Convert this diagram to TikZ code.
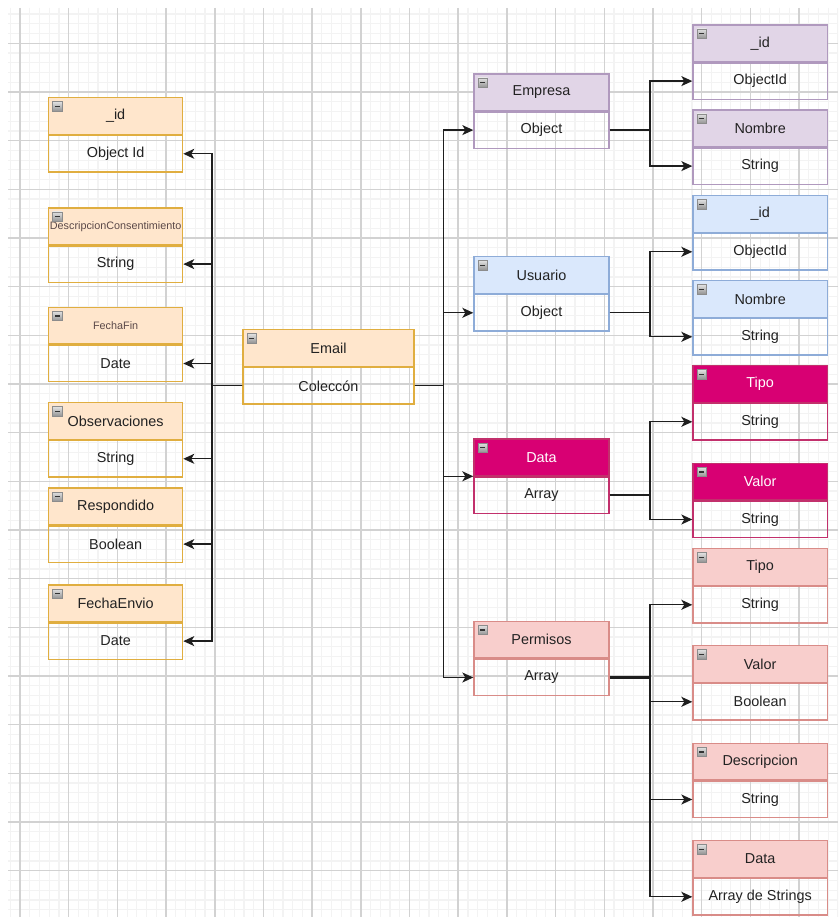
\documentclass[tikz,border=0pt]{standalone}
\usepackage{fontspec}
\setmainfont{Liberation Sans}
\usetikzlibrary{arrows.meta}

% palette
\definecolor{orFill}{HTML}{FFE6CC}\definecolor{orLine}{HTML}{E0AE40}
\definecolor{puFill}{HTML}{E1D5E7}\definecolor{puLine}{HTML}{B099BE}
\definecolor{blFill}{HTML}{DAE8FC}\definecolor{blLine}{HTML}{8EACD8}
\definecolor{mgFill}{HTML}{D80073}\definecolor{mgLine}{HTML}{C2306C}
\definecolor{pkFill}{HTML}{F8CECC}\definecolor{pkLine}{HTML}{D98C88}
\definecolor{txt}{HTML}{222222}
\definecolor{smallTxt}{HTML}{5A4848}
\definecolor{gridMajor}{HTML}{D2D2D2}
\definecolor{gridMinor}{HTML}{F3F3F3}
\definecolor{wire}{HTML}{1E1E1E}

\newcommand\mainsz{\fontsize{14.4}{17}\selectfont}
\newcommand\smallsz{\fontsize{10.8}{13}\selectfont\color{smallTxt}}

\tikzset{
  hdrbox/.style={draw, line width=1.3pt, minimum height=36.7pt, inner sep=0pt,
                 font=\mainsz, text=txt},
  bodybox/.style={draw, line width=1.3pt, minimum height=36.3pt, inner sep=0pt,
                  font=\mainsz, text=txt},
  or-h/.style={fill=orFill, draw=orLine}, or-b/.style={draw=orLine},
  pu-h/.style={fill=puFill, draw=puLine}, pu-b/.style={draw=puLine},
  bl-h/.style={fill=blFill, draw=blLine}, bl-b/.style={draw=blLine},
  mg-h/.style={fill=mgFill, draw=mgLine, text=white}, mg-b/.style={draw=mgLine},
  pk-h/.style={fill=pkFill, draw=pkLine}, pk-b/.style={draw=pkLine},
  iconbox/.style={draw=black!45, line width=0.8pt, top color=black!12, bottom color=black!42},
  iconbar/.style={draw=black!80, line width=1.6pt},
  conn/.style={draw=wire, line width=1.3pt},
  arr/.style={conn, -{Stealth[length=11pt, width=10pt, inset=3pt]}},
  gmin/.style={draw=gridMinor, line width=1.2pt},
  gmaj/.style={draw=gridMajor, line width=1.5pt},
}

% field box: name, left x, top y, width, colour family, title, type
\newcommand\fieldbox[7]{%
  \node[hdrbox, #5-h, minimum width=#4pt, anchor=north west] (#1-h) at (#2,#3) {#6};
  \node[bodybox, #5-b, minimum width=#4pt, anchor=north west] (#1-b) at (#1-h.south west) {#7};
  \draw[iconbox] ({#2+4.7},{#3+4.7}) rectangle ++(9.3,9.3);
  \draw[iconbar] ({#2+7},{#3+9.35}) -- ++(4.7,0);
}

\begin{document}
\begin{tikzpicture}[x=1pt, y=-1pt]
\useasboundingbox (0,0) rectangle (838,917);
\fill[white] (0,0) rectangle (838,917);

% background grid: faint minor lines, every fifth one a major line
\begin{scope}
  \clip (8,8) rectangle (838,917);
  \foreach \k in {-1,...,84} {
    \pgfmathtruncatemacro\m{mod(\k+5,5)}
    \ifnum\m>0 \draw[gmin] ({20+9.738*\k},8) -- ({20+9.738*\k},917); \fi
  }
  \foreach \k in {-4,...,90} {
    \pgfmathtruncatemacro\m{mod(\k+5,5)}
    \ifnum\m>0 \draw[gmin] (8,{43.3+9.734*\k}) -- (838,{43.3+9.734*\k}); \fi
  }
  \foreach \k in {0,...,16} \draw[gmaj] ({20+48.69*\k},8) -- ({20+48.69*\k},917);
  \foreach \k in {0,...,17} \draw[gmaj] (8,{43.3+48.67*\k}) -- (838,{43.3+48.67*\k});
\end{scope}

% root collection
\fieldbox{email}{242.3}{329}{171}{or}{Email}{Coleccón}

% fields on the left
\fieldbox{lid}{48}{97}{134}{or}{\_id}{Object Id}
\fieldbox{ldesc}{48}{207.3}{134}{or}{\smallsz DescripcionConsentimiento}{String}
\fieldbox{lffin}{48}{306.7}{134}{or}{\smallsz FechaFin}{Date}
\fieldbox{lobs}{48}{402}{134}{or}{Observaciones}{String}
\fieldbox{lresp}{48}{487.3}{134}{or}{Respondido}{Boolean}
\fieldbox{lfenv}{48}{584.3}{134}{or}{FechaEnvio}{Date}

% embedded documents
\fieldbox{emp}{473.3}{73.3}{135}{pu}{Empresa}{Object}
\fieldbox{usr}{473.3}{256}{135}{bl}{Usuario}{Object}
\fieldbox{dat}{473.3}{438.3}{135}{mg}{Data}{Array}
\fieldbox{per}{473.3}{620.7}{135}{pk}{Permisos}{Array}

% their fields
\fieldbox{eid}{692.3}{24.3}{134.4}{pu}{\_id}{ObjectId}
\fieldbox{enom}{692.3}{109.3}{134.4}{pu}{Nombre}{String}
\fieldbox{uid}{692.3}{195}{134.4}{bl}{\_id}{ObjectId}
\fieldbox{unom}{692.3}{280}{134.4}{bl}{Nombre}{String}
\fieldbox{dtipo}{692.3}{365}{134.4}{mg}{Tipo}{String}
\fieldbox{dval}{692.3}{462.7}{134.4}{mg}{Valor}{String}
\fieldbox{ptipo}{692.3}{548}{134.4}{pk}{Tipo}{String}
\fieldbox{pval}{692.3}{645}{134.4}{pk}{Valor}{Boolean}
\fieldbox{pdesc}{692.3}{742.7}{134.4}{pk}{Descripcion}{String}
\fieldbox{pdata}{692.3}{840}{134.4}{pk}{Data}{Array de Strings}

% trunk positions
\coordinate (lx) at (212,0);
\coordinate (rx) at (443.3,0);
\coordinate (bx) at (650,0);

% left tree
\foreach \t in {lid,ldesc,lffin,lobs,lresp,lfenv}
  \draw[arr] (email-b.west) -- (email-b.west -| lx) |- (\t-b.east);

% right tree
\foreach \t in {emp,usr,per}
  \draw[arr] (email-b.east) -- (email-b.east -| rx) |- (\t-b.west);
\draw[arr] (email-b.east) -- (email-b.east -| rx) |- (dat-h.south west);

% branches of the embedded documents
\foreach \s/\t in {emp/eid,emp/enom,usr/uid,usr/unom,dat/dtipo,dat/dval}
  \draw[arr] (\s-b.east) -- (\s-b.east -| bx) |- (\t-b.west);
\draw[conn, line width=2.4pt] (per-b.east) -- (per-b.east -| bx);
\foreach \t in {ptipo,pval,pdesc,pdata}
  \draw[arr] (per-b.east -| bx) |- (\t-b.west);
\end{tikzpicture}
\end{document}
